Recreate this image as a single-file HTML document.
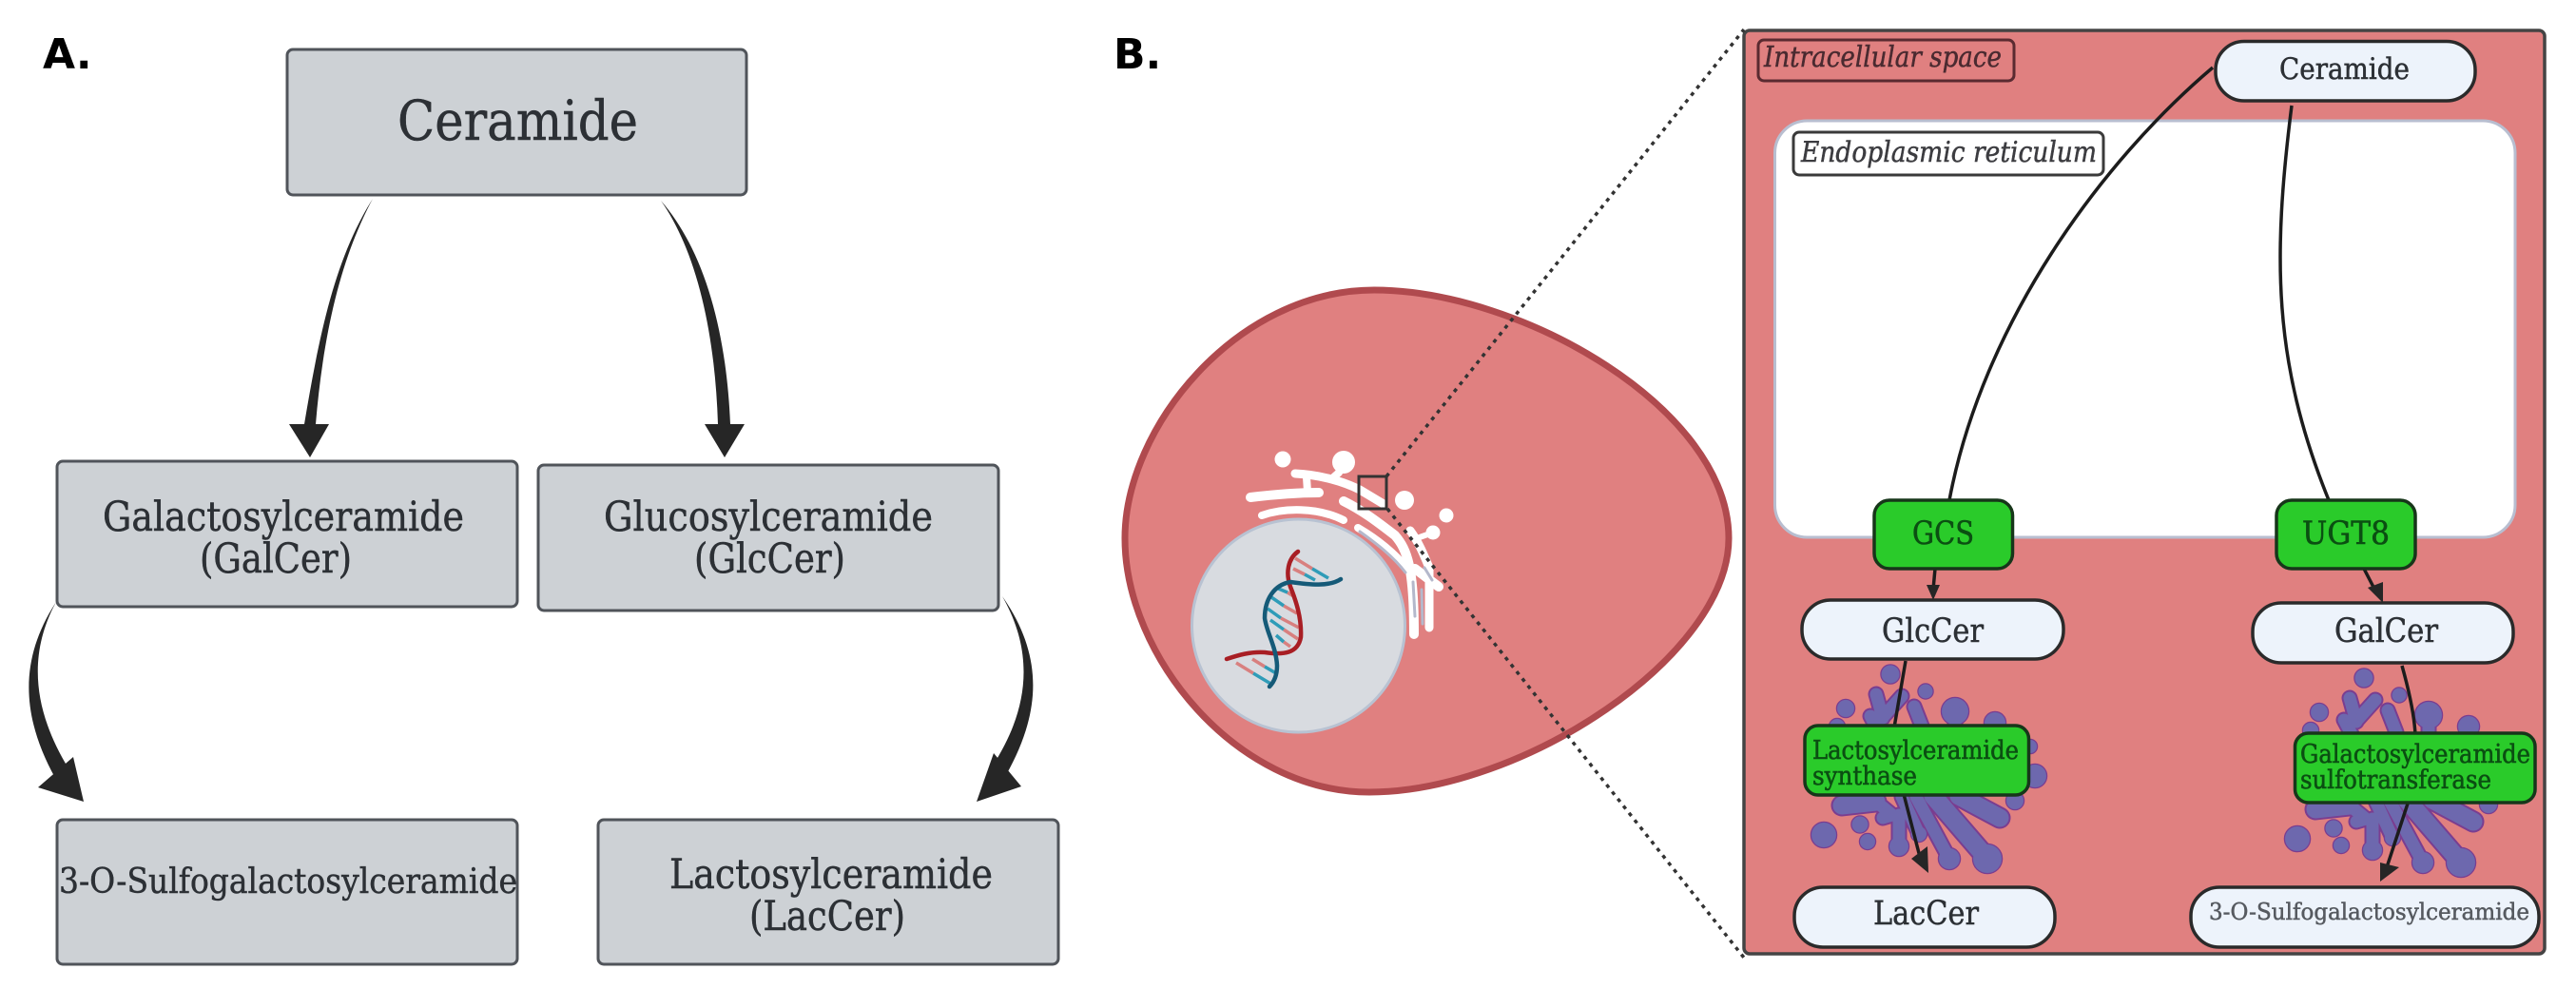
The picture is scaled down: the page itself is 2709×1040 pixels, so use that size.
<!DOCTYPE html>
<html>
<head>
<meta charset="utf-8">
<style>
html,body{margin:0;padding:0;background:#fff;width:2709px;height:1040px;overflow:hidden}
svg{display:block}
text{font-family:"DejaVu Serif","Liberation Serif",serif;fill:#2c3035;stroke:#2c3035;stroke-width:.5}
.lab{font-family:"DejaVu Sans","Liberation Sans",sans-serif;font-weight:bold;font-size:44px;fill:#000;stroke:none}
.box{fill:#cdd1d5;stroke:#50545a;stroke-width:3}
.pill{fill:#edf3fb;stroke:#2a2a2a;stroke-width:3.5}
.en{fill:#2acb2a;stroke:#17361a;stroke-width:3.5}
text.gt{fill:#0b4f12;stroke:#0b4f12;stroke-width:.6}
.ln{fill:none;stroke:#1c1c1c;stroke-width:3.5}
.arr{fill:#262626}
.ts{fill:none;stroke-linecap:round;stroke-linejoin:round}
</style>
</head>
<body>
<svg width="2709" height="1040" viewBox="0 0 2709 1040" xmlns="http://www.w3.org/2000/svg">
<defs>
<g id="gc">
  <circle cx="1988" cy="709" r="9.500"/>
  <circle cx="2025" cy="727" r="7.500"/>
  <circle cx="1941" cy="745" r="9"/>
  <circle cx="2056" cy="748" r="14"/>
  <circle cx="2098" cy="760" r="11"/>
  <circle cx="1918" cy="878" r="13"/>
  <circle cx="1964" cy="885" r="8"/>
  <circle cx="1956" cy="867" r="8.500"/>
  <circle cx="2119" cy="842" r="9"/>
  <circle cx="2140" cy="816" r="12"/>
  <circle cx="2135" cy="785" r="7"/>
  <circle cx="1932" cy="764" r="8"/>
  <circle cx="2090" cy="903" r="15"/>
  <circle cx="2050" cy="903" r="11"/>
  <circle cx="1997" cy="890" r="10"/>
  <circle cx="2018" cy="877" r="8"/>
</g>
<path id="g1" d="M1973,730L1980,755M2000,732L1982,752M1967,753L1975,768M2013,743L2022,766M2056,748L2056,768M2015,838L2050,903M2000,838L2018,877M1997,857L1997,890M1980,860L1990,857L1973,843"/>
<path id="g2" d="M2033,837L2090,903M2060,837L2103,860M1937,847L1973,843"/>
<g id="golgi">
  <use href="#gc" style="fill:#7a3d90" stroke="#7a3d90" stroke-width="2.500"/>
  <use href="#g1" class="ts" stroke="#7a3d90" stroke-width="17"/>
  <use href="#g2" class="ts" stroke="#7a3d90" stroke-width="23"/>
  <use href="#gc" style="fill:#6d68ae"/>
  <use href="#g1" class="ts" stroke="#6d68ae" stroke-width="13"/>
  <use href="#g2" class="ts" stroke="#6d68ae" stroke-width="19"/>
</g>
</defs>

<!-- Panel A -->
<text class="lab" x="45" y="72">A.</text>

<rect class="box" x="302" y="52" width="483" height="153" rx="6"/>
<rect class="box" x="60" y="485" width="484" height="153" rx="6"/>
<rect class="box" x="566" y="489" width="484" height="153" rx="6"/>
<rect class="box" x="60" y="862" width="484" height="152" rx="6"/>
<rect class="box" x="629" y="862" width="484" height="152" rx="6"/>

<text x="418" y="147" font-size="58" textLength="253" lengthAdjust="spacingAndGlyphs">Ceramide</text>
<text x="108" y="558" font-size="43" textLength="380" lengthAdjust="spacingAndGlyphs">Galactosylceramide</text>
<text x="210" y="602" font-size="43" textLength="160" lengthAdjust="spacingAndGlyphs">(GalCer)</text>
<text x="635" y="558" font-size="43" textLength="346" lengthAdjust="spacingAndGlyphs">Glucosylceramide</text>
<text x="730" y="602" font-size="43" textLength="159" lengthAdjust="spacingAndGlyphs">(GlcCer)</text>
<text x="62" y="939" font-size="36" textLength="482" lengthAdjust="spacingAndGlyphs">3-O-Sulfogalactosylceramide</text>
<text x="704" y="934" font-size="43" textLength="340" lengthAdjust="spacingAndGlyphs">Lactosylceramide</text>
<text x="788" y="978" font-size="43" textLength="164" lengthAdjust="spacingAndGlyphs">(LacCer)</text>

<path class="arr" d="M392,209C352,272 336,351 320,446L332,446C340,351 358,272 392,209Z"/>
<polygon class="arr" points="304,446 346,446 326,481"/>
<path class="arr" d="M695,211C733,265 752,351 755,446L768,446C764,351 742,265 695,211Z"/>
<polygon class="arr" points="741,446 783,446 762,481"/>
<path class="arr" d="M59,633C22,690 20,749 58,818L72,808C36,749 28,690 59,633Z"/>
<polygon class="arr" points="77,796 40,828 88,843"/>
<path class="arr" d="M1054,627C1098,690 1095,749 1058,815L1044,805C1080,749 1090,690 1054,627Z"/>
<polygon class="arr" points="1045,792 1074,827 1027,843"/>

<!-- Panel B -->
<text class="lab" x="1171" y="72">B.</text>

<!-- Cell -->
<path d="M1183,566C1183,450 1300,305 1445,305C1600,305 1818,430 1818,566C1818,690 1600,833 1440,833C1300,833 1183,690 1183,566Z" fill="#e08080" stroke="#b04a4e" stroke-width="7"/>

<!-- ER / organelle white shapes -->
<g class="ts" stroke="#fff">
  <path stroke-width="10" d="M1315,523C1340,520 1365,518 1387,518"/>
  <path stroke-width="9" d="M1362,498C1385,499 1410,505 1430,515L1455,530"/>
  <path stroke-width="8" d="M1374,502L1375,517M1413,486L1408,497L1400,504"/>
  <path stroke-width="8" d="M1327,542C1350,534 1385,533 1413,547"/>
  <path stroke-width="10" d="M1413,527C1435,538 1450,550 1467,563C1480,578 1487,597 1487,667"/>
  <path stroke-width="8" d="M1428,555C1445,565 1465,580 1480,598"/>
  <path stroke-width="9" d="M1483,558C1492,570 1498,585 1503,597L1503,660"/>
  <path stroke-width="10" d="M1488,598L1513,617"/>
  <path stroke-width="6" d="M1490,566L1507,560"/>
</g>
<g class="ts" stroke="#b4b8cb" stroke-width="3">
  <path d="M1430,559C1448,572 1465,585 1478,602"/>
  <path d="M1486,612L1488,648"/>
  <path d="M1498,597L1506,610"/>
  <path d="M1495,620L1496,656"/>
</g>
<g fill="#fff">
  <circle cx="1349" cy="483" r="8.500"/>
  <circle cx="1413" cy="486" r="12"/>
  <circle cx="1477" cy="526" r="10"/>
  <circle cx="1521" cy="542" r="7.500"/>
  <circle cx="1507" cy="560" r="7.500"/>
</g>

<!-- Nucleus -->
<circle cx="1365.500" cy="658" r="112" fill="#d8dbe0" stroke="#b8c2d2" stroke-width="3"/>

<!-- DNA -->
<g fill="none" stroke-width="3.500">
  <g stroke="#d8807f">
    <path d="M1362,587L1380,598M1360,598L1372,604"/>
    <path d="M1354,623L1362,628M1350,637L1364,645M1347,650L1366,660M1350,662L1365,672M1350,675L1357,680"/>
    <path d="M1300,697L1318,708M1317,693L1330,701"/>
  </g>
  <g stroke="#2f9cb8">
    <path d="M1380,598L1397,608M1372,604L1383,610"/>
    <path d="M1342,618L1354,623M1337,628L1350,637M1333,640L1347,650M1336,652L1350,662M1342,668L1350,675"/>
    <path d="M1318,708L1338,720M1330,701L1342,708"/>
  </g>
</g>
<path d="M1365,580C1354,588 1352,603 1357,617C1363,632 1369,650 1368,670C1365,687 1350,689 1330,686C1315,685 1302,689 1290,693" fill="none" stroke="#a81e24" stroke-width="4.500" stroke-linecap="round"/>
<path d="M1410,609C1398,617 1378,615 1357,612C1340,615 1330,630 1330,650C1332,665 1342,680 1343,700C1343,710 1340,717 1335,722" fill="none" stroke="#155a78" stroke-width="4.500" stroke-linecap="round"/>

<!-- Small square -->
<rect x="1429" y="501" width="29" height="34" fill="none" stroke="#333" stroke-width="3"/>

<!-- Frame -->
<rect x="1834" y="32" width="842" height="971" rx="6" fill="#e08080" stroke="#444" stroke-width="3.500"/>

<!-- Dotted lines -->
<path d="M1458,501L1834,31M1459,535L1834,1007" fill="none" stroke="#333" stroke-width="3.500" stroke-dasharray="4 5.500"/>

<!-- Intracellular space -->
<rect x="1849" y="42" width="269" height="43" rx="6" fill="none" stroke="#5a2a30" stroke-width="3"/>
<text x="1855" y="70" font-size="30" font-style="italic" textLength="250" lengthAdjust="spacingAndGlyphs" style="fill:#4a2a30;stroke:#4a2a30">Intracellular space</text>

<!-- ER -->
<rect x="1866.500" y="127" width="778.500" height="438" rx="34" fill="#fff" stroke="#b8bed0" stroke-width="3"/>
<rect x="1886" y="139" width="326" height="45" rx="6" fill="#fff" stroke="#3a3a3a" stroke-width="3"/>
<text x="1894" y="170" font-size="30" font-style="italic" textLength="311" lengthAdjust="spacingAndGlyphs" style="fill:#3c3c40;stroke:#3c3c40">Endoplasmic reticulum</text>

<!-- Connectors -->
<path class="ln" d="M2327,71C2210,170 2085,340 2050,526"/>
<path class="ln" d="M2410,111C2390,270 2390,380 2449,526"/>
<path class="ln" d="M2035,598L2033,620"/>
<polygon class="arr" points="2026,615 2040,615 2033,631"/>
<path class="ln" d="M2486,598L2500,625"/>
<polygon class="arr" points="2490,618 2506,612 2506,634"/>

<!-- Golgi -->
<use href="#golgi"/>
<use href="#golgi" x="498" y="4"/>

<path class="ln" d="M2004,695L1992,765"/>
<path class="ln" d="M2002,835L2020,905"/>
<polygon class="arr" points="2010,903 2027,890 2028,918"/>
<path class="ln" d="M2526,700C2533,725 2539,750 2540,773"/>
<path class="ln" d="M2533,842L2510,912"/>
<polygon class="arr" points="2503,907 2523,912 2503,927"/>

<!-- Pills -->
<rect class="pill" x="2330" y="43.500" width="273" height="62.500" rx="30"/>
<text x="2397" y="83" font-size="31" textLength="137" lengthAdjust="spacingAndGlyphs">Ceramide</text>
<rect class="pill" x="1895" y="631" width="275" height="62" rx="30"/>
<text x="1979" y="675" font-size="35" textLength="107" lengthAdjust="spacingAndGlyphs">GlcCer</text>
<rect class="pill" x="2369" y="634" width="274" height="63" rx="30"/>
<text x="2455" y="675" font-size="35" textLength="109" lengthAdjust="spacingAndGlyphs">GalCer</text>
<rect class="pill" x="1887" y="933" width="274" height="63" rx="30"/>
<text x="1970" y="972" font-size="35" textLength="111" lengthAdjust="spacingAndGlyphs">LacCer</text>
<rect class="pill" x="2304" y="933" width="366" height="63" rx="30"/>
<text x="2323" y="967" font-size="24" textLength="337" lengthAdjust="spacingAndGlyphs" style="fill:#565a60;stroke:#565a60">3-O-Sulfogalactosylceramide</text>

<!-- Enzymes -->
<rect class="en" x="1971" y="526" width="145.500" height="72" rx="16"/>
<text class="gt" x="2011" y="572" font-size="34" textLength="65" lengthAdjust="spacingAndGlyphs">GCS</text>
<rect class="en" x="2394" y="526" width="146" height="72" rx="16"/>
<text class="gt" x="2421" y="572" font-size="34" textLength="92" lengthAdjust="spacingAndGlyphs">UGT8</text>
<rect class="en" x="1898" y="763" width="235.500" height="73" rx="14"/>
<text class="gt" x="1906" y="798" font-size="27" textLength="217" lengthAdjust="spacingAndGlyphs">Lactosylceramide</text>
<text class="gt" x="1906" y="825" font-size="27" textLength="110" lengthAdjust="spacingAndGlyphs">synthase</text>
<rect class="en" x="2413.500" y="771" width="252.500" height="73" rx="14"/>
<text class="gt" x="2419" y="802" font-size="27" textLength="242" lengthAdjust="spacingAndGlyphs">Galactosylceramide</text>
<text class="gt" x="2419" y="829" font-size="27" textLength="201" lengthAdjust="spacingAndGlyphs">sulfotransferase</text>
</svg>
</body>
</html>
